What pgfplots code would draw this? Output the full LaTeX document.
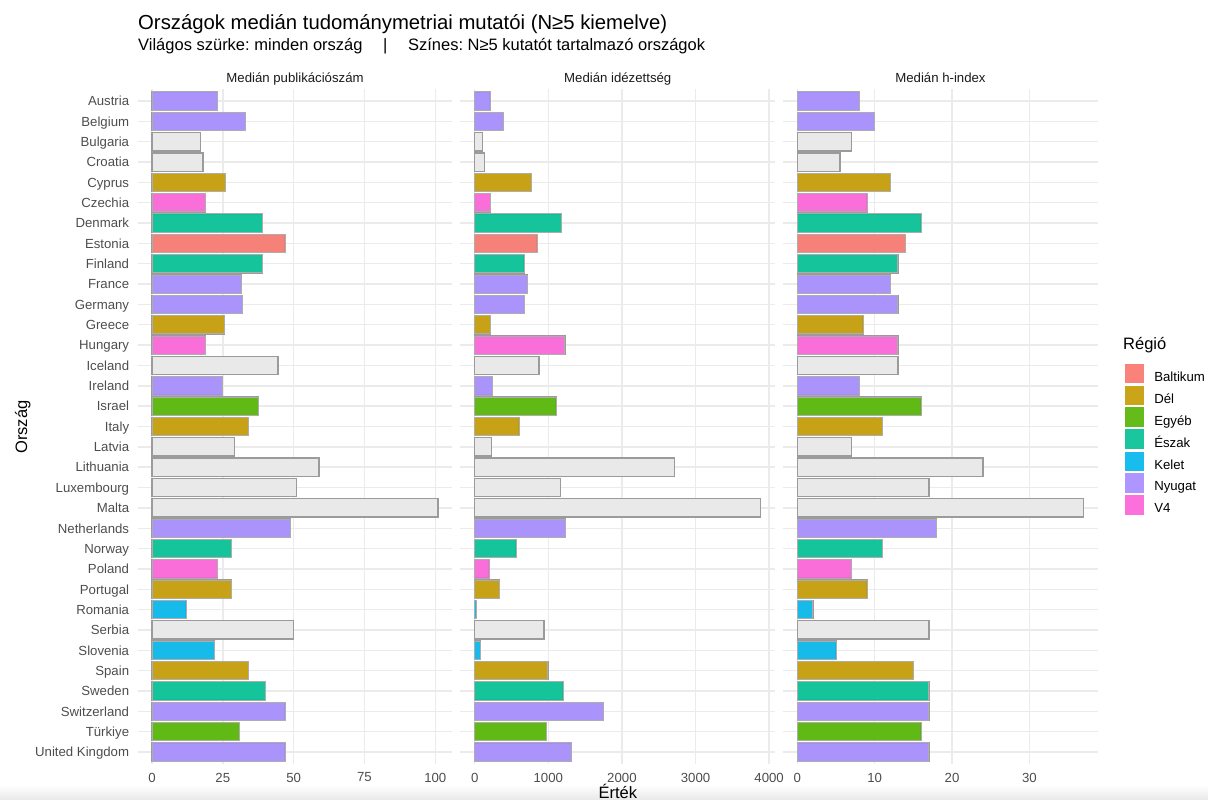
\documentclass[border=0pt]{standalone}
\usepackage{fontspec}
\setmainfont{Liberation Sans}
\usepackage{pgfplots}
\usepackage{pgfplotstable}
\pgfplotsset{compat=1.18}
\frenchspacing

\definecolor{cBa}{HTML}{F8766D}
\definecolor{cDe}{HTML}{C49A00}
\definecolor{cEg}{HTML}{53B400}
\definecolor{cEs}{HTML}{00C094}
\definecolor{cKe}{HTML}{00B6EB}
\definecolor{cNy}{HTML}{A58AFF}
\definecolor{cV4}{HTML}{FB61D7}
\definecolor{gridc}{RGB}{235,235,235}
\definecolor{tickc}{RGB}{77,77,77}
\definecolor{stripc}{RGB}{26,26,26}
\definecolor{barfill}{RGB}{233,233,233}
\definecolor{barline}{RGB}{155,155,155}

\newcommand\ticksize{\fontsize{13.2}{15}\selectfont}
\newcommand\axtitlesize{\fontsize{16.5}{19}\selectfont}
\newcommand\titlesize{\fontsize{20.3}{23}\selectfont}

% rc: 0 = gray only, 1 Baltikum, 2 Dél, 3 Egyéb, 4 Észak, 5 Kelet, 6 Nyugat, 7 V4
\pgfplotstableread{
idx country pub cit h rc
0 Austria 23 208 8 6
1 Belgium 33 394 10 6
2 Bulgaria 17 104 7 0
3 Croatia 18 131 5.5 0
4 Cyprus 26 774 12 2
5 Czechia 19 213 9 7
6 Denmark 39 1176 16 4
7 Estonia 47 846 14 1
8 Finland 39 670 13 4
9 France 31.5 719 12 6
10 Germany 32 679 13 6
11 Greece 25.5 217 8.5 2
12 Hungary 19 1226 13 7
13 Iceland 44.5 873 13 0
14 Ireland 25 244 8 6
15 Israel 37.5 1104 16 3
16 Italy 34 602 11 2
17 Latvia 29 231 7 0
18 Lithuania 59 2719 24 0
19 Luxembourg 51 1163 17 0
20 Malta 101 3887 37 0
21 Netherlands 49 1231 18 6
22 Norway 28 561 11 4
23 Poland 23 195 7 7
24 Portugal 28 339 9 2
25 Romania 12 23 2 5
26 Serbia 50 941 17 0
27 Slovenia 22 81 5 5
28 Spain 34 995 15 2
29 Sweden 40 1199 17 4
30 Switzerland 47 1751 17 6
31 Türkiye 31 973 16 3
32 {United Kingdom} 47 1312 17 6
}\data

\pgfplotsset{
  panel/.style={
    scale only axis, width=314.7pt, height=675.4pt,
    anchor=north west,
    ymin=-0.6, ymax=32.6, y dir=reverse,
    ytick={0,...,32},
    axis line style={draw=none},
    major tick length=0pt, tick style={draw=none},
    xmajorgrids, ymajorgrids,
    major grid style={color=gridc, line width=1.4pt},
    tick label style={font=\ticksize, text=tickc},
    xticklabel style={anchor=north, inner sep=0pt, yshift=-8.4pt},
    yticklabel style={anchor=base east, inner sep=0pt, xshift=-8.4pt, yshift=-4.8pt},
    every axis title shift=0pt,
    title style={at={(0.5,1)}, anchor=base, yshift=6.1pt, font=\ticksize, text=stripc, inner sep=0pt},
    /pgf/number format/1000 sep={},
    /pgf/number format/assume math mode=true,
    scaled x ticks=false,
    unbounded coords=discard,
  },
  graybar/.style={xbar, bar width=0.9, bar shift=0pt, fill=barfill, draw=barline, line width=1.3pt, forget plot},
  colbar/.style={xbar, bar width=0.9, bar shift=0pt, fill=#1, fill opacity=0.9, draw=black!32, line width=0.9pt, forget plot},
  legkey/.style={fill=#1, fill opacity=0.9, draw=white, line width=0.5pt,
    legend image code/.code={\draw[##1] (-0.5pt,-6pt) rectangle (20pt,14.3pt);}},
}
% colour layer of one region: #1 colour, #2 region code, #3 column
\newcommand\regbars[3]{\addplot[colbar=#1] table[x expr={\thisrow{rc}==#2 ? \thisrow{#3} : nan}, y=idx]{\data};}
\newcommand\allregions[1]{%
  \addplot[graybar] table[x=#1,y=idx]{\data};
  \regbars{cBa}{1}{#1}\regbars{cDe}{2}{#1}\regbars{cEg}{3}{#1}\regbars{cEs}{4}{#1}%
  \regbars{cKe}{5}{#1}\regbars{cNy}{6}{#1}\regbars{cV4}{7}{#1}}

\begin{document}
\begin{tikzpicture}
\path[use as bounding box] (0,0) rectangle (1208pt,-800pt);
\shade[top color=white, bottom color=black!9] (0,-785pt) rectangle (1208pt,-800pt);

\node[anchor=base west, inner sep=0pt] at (138pt,-29.3pt) {\titlesize Országok medián tudománymetriai mutatói (N≥5 kiemelve)};
\node[anchor=base west, inner sep=0pt] at (138pt,-51pt) {\axtitlesize Világos szürke: minden ország\hspace{1.25em}|\hspace{1.25em}Színes: N≥5 kutatót tartalmazó országok};

% Panel 1
\begin{axis}[panel, at={(137.7pt,-88.8pt)},
  xmin=-5.05, xmax=106.05, xtick={0,25,50,75,100},
  yticklabels from table={\data}{country},
  title={Medián publikációszám}]
\allregions{pub}
\end{axis}

% Panel 2
\begin{axis}[panel, at={(460.4pt,-88.8pt)},
  xmin=-194.35, xmax=4081.35, xtick={0,1000,2000,3000,4000},
  yticklabels={},
  title={Medián idézettség}]
\allregions{cit}
\end{axis}

% Panel 3
\begin{axis}[panel, at={(783.1pt,-88.8pt)},
  xmin=-1.85, xmax=38.85, xtick={0,10,20,30},
  yticklabels={},
  title={Medián h-index},
  legend cell align=left,
  legend style={at={(1.0825,0.5945)}, anchor=north west, draw=none, fill=none,
    inner sep=0pt, outer sep=0pt, row sep=1.1pt, column sep=9.5pt,
    nodes={inner sep=0pt, text=black, font=\ticksize}}]
\allregions{h}
\addlegendimage{legkey=cBa}\addlegendentry{Baltikum}
\addlegendimage{legkey=cDe}\addlegendentry{Dél}
\addlegendimage{legkey=cEg}\addlegendentry{Egyéb}
\addlegendimage{legkey=cEs}\addlegendentry{Észak}
\addlegendimage{legkey=cKe}\addlegendentry{Kelet}
\addlegendimage{legkey=cNy}\addlegendentry{Nyugat}
\addlegendimage{legkey=cV4}\addlegendentry{V4}
\end{axis}

\node[anchor=base west, inner sep=0pt] at (1123pt,-349pt) {\axtitlesize Régió};
\node[rotate=90, inner sep=0pt] at (22.7pt,-427pt) {\axtitlesize Ország};
\node[anchor=base, inner sep=0pt] at (617.9pt,-798.5pt) {\axtitlesize Érték};
\end{tikzpicture}
\end{document}
